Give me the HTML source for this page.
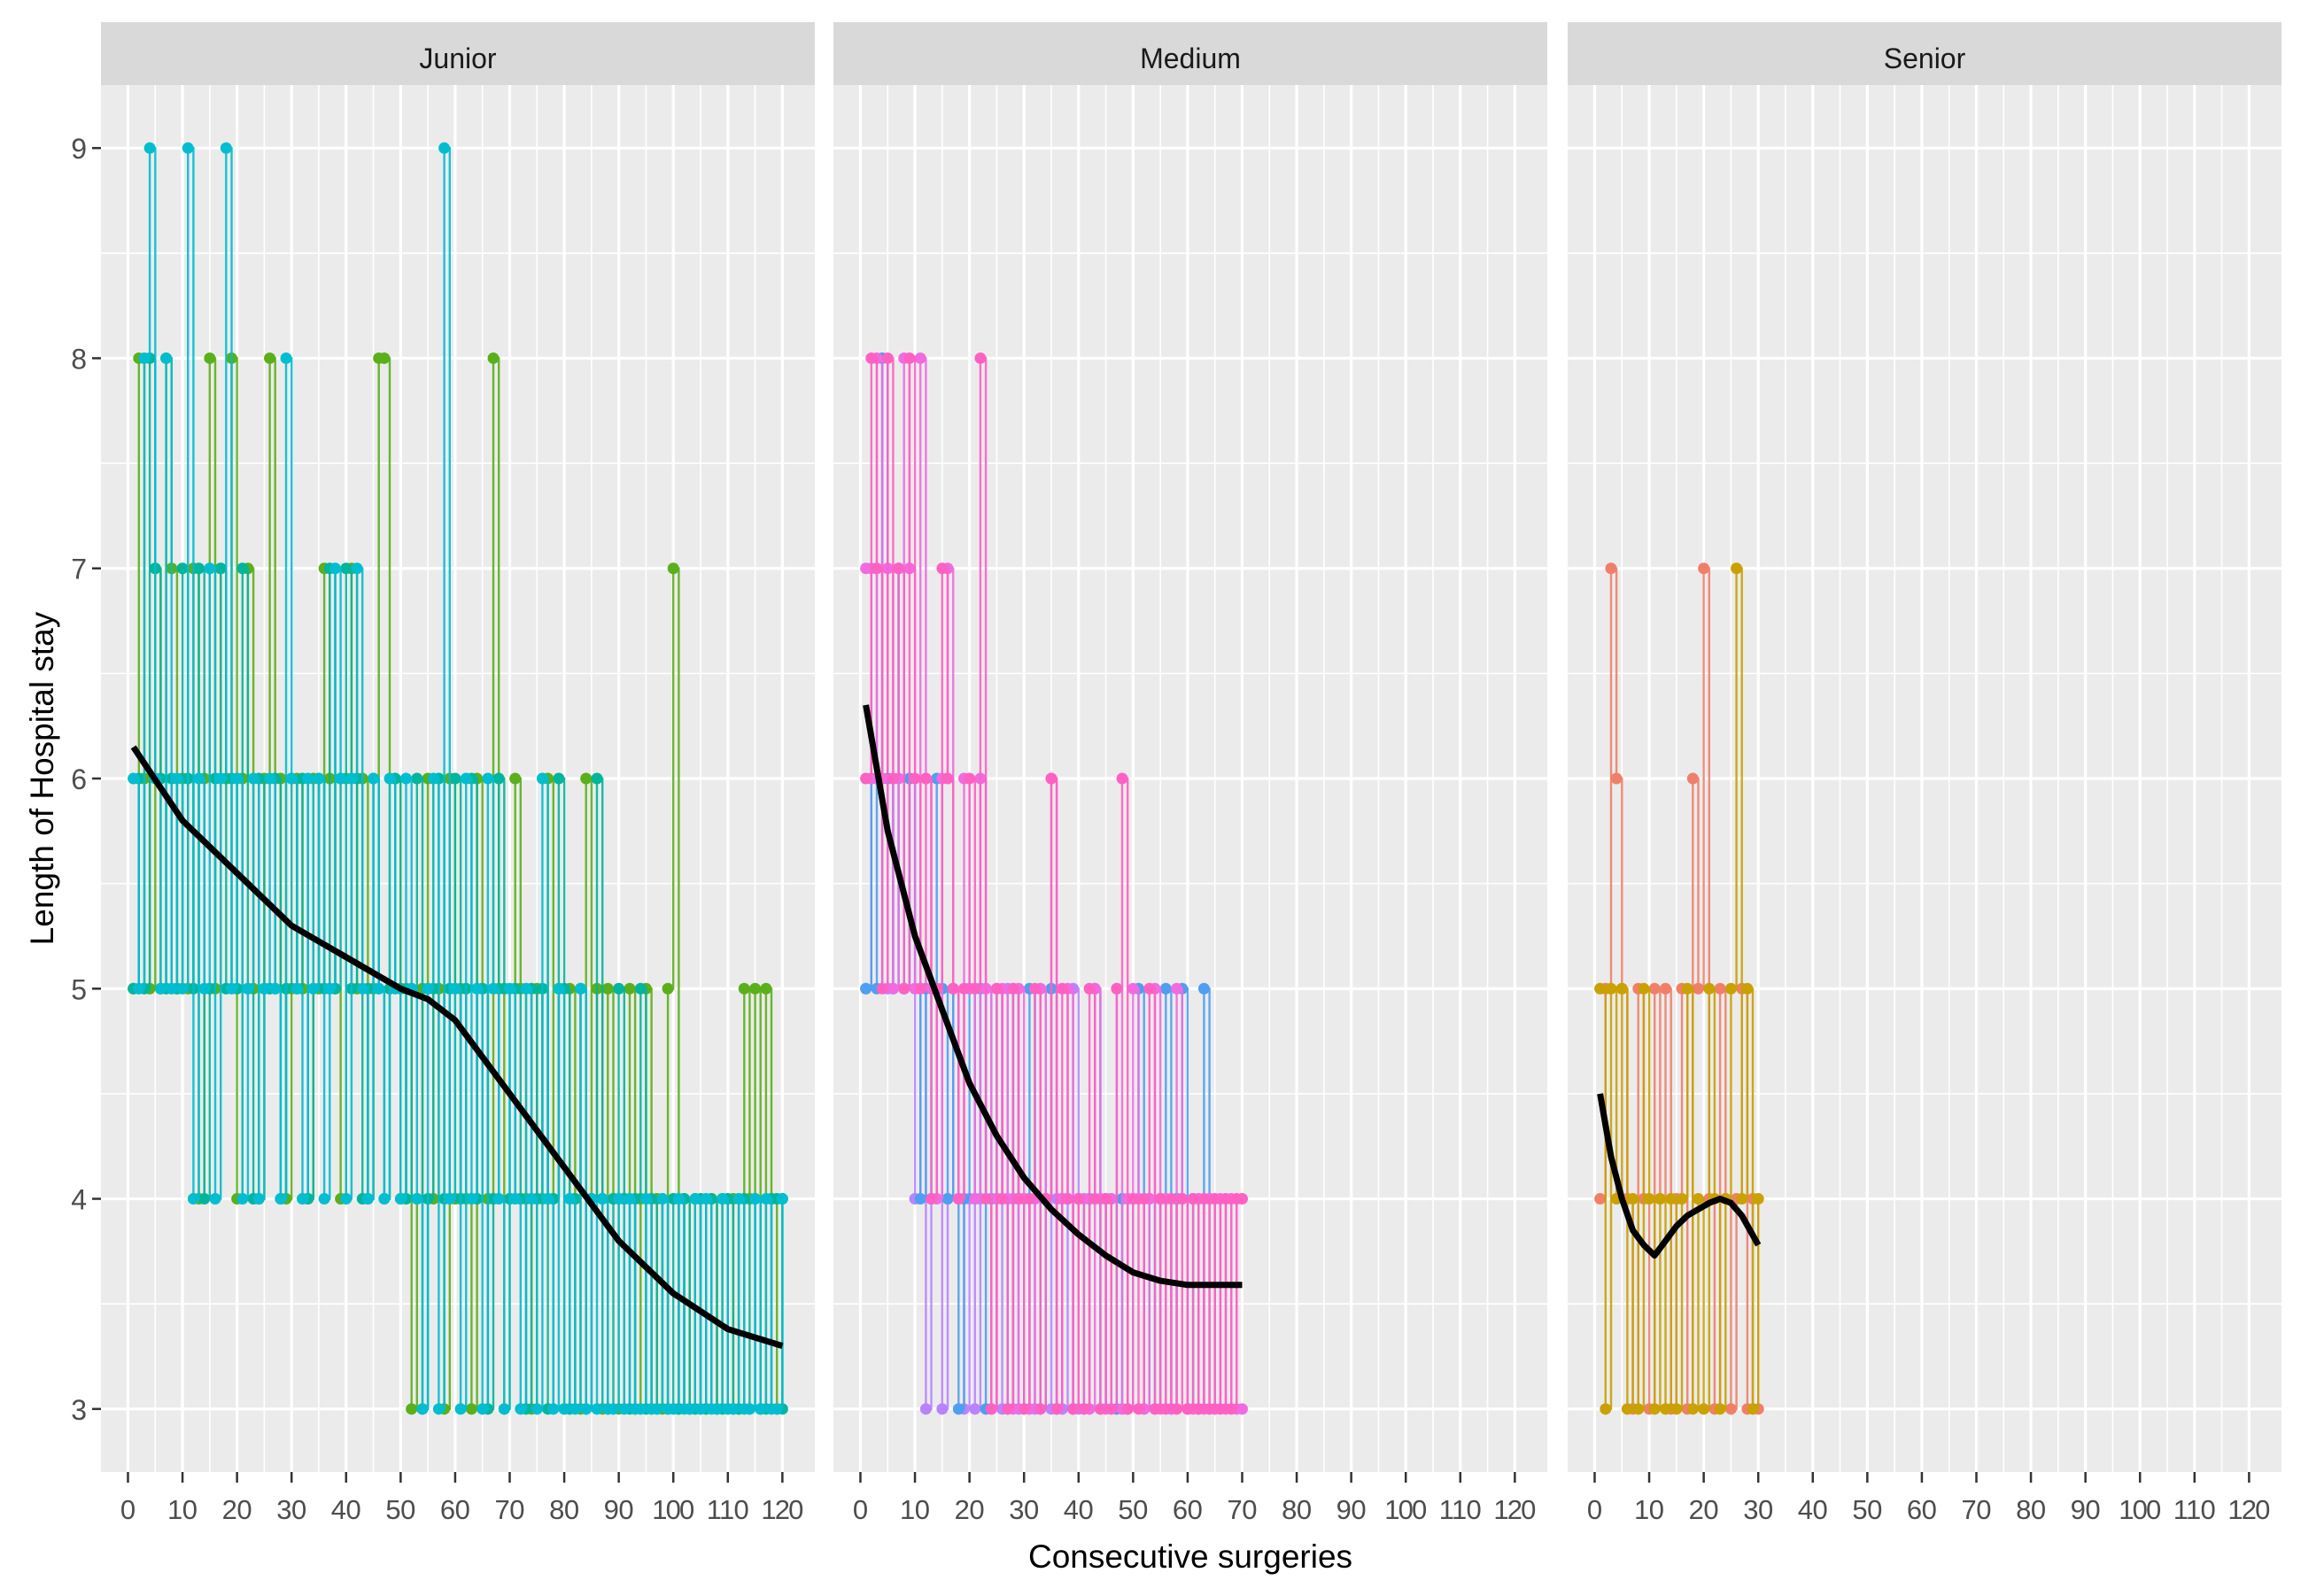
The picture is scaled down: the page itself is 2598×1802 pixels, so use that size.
<!DOCTYPE html>
<html><head><meta charset="utf-8"><style>
html,body{margin:0;padding:0;background:#fff}
svg{display:block}
text{font-family:"Liberation Sans",sans-serif}
</style></head><body>
<svg id="chart" width="2598" height="1802" viewBox="0 0 2598 1802" xmlns="http://www.w3.org/2000/svg">
<rect width="2598" height="1802" fill="#fff"/>
<g id="root"></g>
<text x="1344" y="1770" font-size="37" text-anchor="middle" fill="#000">Consecutive surgeries</text>
<text transform="translate(60,879) rotate(-90)" font-size="37" text-anchor="middle" fill="#000">Length of Hospital stay</text>
</svg>
<script>
const panelNames = ["Junior","Medium","Senior"];
const xTicks = [0,10,20,30,40,50,60,70,80,90,100,110,120];
const yTicks = [3,4,5,6,7,8,9];

const juniorCyan = [6,5,8,9,6,5,8,5,6,5, 9,4,6,5,7,4,6,9,5,6, 4,5,6,4,5,6,5,4,8,6, 5,4,6,5,6,4,5,7,6,4, 6,7,5,4,6,5,4,6,5,4, 6,5,4,3,5,6,3,9,4,5, 3,6,4,5,3,6,5,4,3,5, 4,3,5,4,3,6,4,3,5,3, 4,3,5,3,4,3,4,3,3,4, 3,4,3,3,4,3,3,4,3,3, 4,3,3,4,3,4,3,3,4,3, 3,4,3,3,4,3,4,3,3,4];
const juniorGreen = [5,8,6,5,7,5,8,7,5,6, 5,7,4,6,8,5,7,6,8,4, 6,7,5,4,6,8,5,6,4,5, 6,5,4,6,5,7,6,5,4,6, 7,5,6,4,5,8,8,5,6,4, 5,3,4,5,6,4,5,3,6,4, 5,4,3,6,5,4,8,5,3,4, 6,5,4,3,5,4,6,4,5,3, 5,4,3,6,4,5,3,5,4,3, 4,5,3,4,5,3,4,3,5,7, 3,4,3,4,3,3,4,3,4,3, 4,3,5,4,5,3,5,4,3,4];
const juniorTeal = [5,6,5,8,7,6,5,6,5,7, 6,5,7,4,5,6,7,5,6,5, 7,5,4,6,5,5,6,4,5,6, 5,6,4,5,6,5,7,5,6,7, 5,6,4,5,6,5,4,5,6,5, 4,5,6,3,4,5,6,4,5,6, 4,5,6,4,5,3,4,6,5,4, 5,4,3,5,4,5,3,4,6,5, 3,4,5,3,4,6,4,3,4,5, 4,3,4,5,3,4,3,4,3,4, 3,4,3,3,4,3,4,3,3,4, 3,3,4,3,4,3,3,4,4,3];
const mediumPink = [6,8,7,5,8,6,7,5,8,6, 5,6,4,5,7,6,5,4,5,6, 5,8,4,3,5,4,3,5,4,3, 4,5,3,4,6,3,5,4,3,4, 3,5,4,3,4,3,5,6,3,4, 3,4,5,3,4,3,4,3,4,3, 4,3,4,3,4,3,4,3,4,4];
const mediumMagenta = [7,6,8,6,7,5,6,8,7,5, 8,6,5,4,6,7,5,4,6,5, 4,6,5,3,4,5,4,3,5,4, 3,4,5,4,6,3,4,5,3,4, 4,3,5,4,3,4,5,3,4,5, 4,3,4,5,3,4,3,5,4,3, 3,4,3,4,3,4,3,4,3,3];
const mediumPurple = [5,7,6,8,5,6,7,5,6,4, 5,3,4,5,3,4,5,4,3,4, 3,4,5,3,4,3,5,4,3,4, 4,3,5,4,3,4,3,4,5,3];
const mediumBlue = [5,6,5,8,6,5,7,5,6,5, 4,5,4,6,5,4,5,3,4,5, 4,5,3,4,5,4,3,5,4,3, 5,4,3,4,5,3,4,4,3,4, 3,4,5,3,4,4,3,4,3,4, 5,3,4,3,4,5,3,4,5,3, 4,3,5,4,3];
const seniorSalmon = [4,5,7,6,5,4,3,5,4,3, 5,4,5,3,4,5,3,6,5,7, 4,3,5,4,3,4,5,3,4,3];
const seniorGold = [5,3,5,4,5,3,4,3,5,4, 3,4,3,4,3,4,5,3,4,3, 5,4,3,4,5,7,4,5,3,4];

const juniorSmoothX = [1,10,20,30,40,50,55,60,70,80,90,100,110,120];
const juniorSmoothY = [6.15,5.8,5.55,5.3,5.15,5.0,4.95,4.85,4.5,4.15,3.8,3.55,3.38,3.3];
const mediumSmoothX = [1,5,10,15,20,25,30,35,40,45,50,55,60,70];
const mediumSmoothY = [6.35,5.75,5.25,4.9,4.55,4.3,4.1,3.95,3.83,3.73,3.65,3.61,3.59,3.59];
const seniorSmoothX = [1,3,5,7,9,11,13,15,17,19,21,23,25,27,30];
const seniorSmoothY = [4.5,4.2,4.0,3.85,3.78,3.73,3.8,3.87,3.92,3.95,3.98,4.0,3.98,3.92,3.78];

const panels = [
 {series:[[juniorGreen,"#5BAF1A"],[juniorTeal,"#00B59C"],[juniorCyan,"#00BDD0"]], sx:juniorSmoothX, sy:juniorSmoothY},
 {series:[[mediumPurple,"#B983FF"],[mediumBlue,"#4F9EF0"],[mediumMagenta,"#F06BE0"],[mediumPink,"#FF61C3"]], sx:mediumSmoothX, sy:mediumSmoothY},
 {series:[[seniorSalmon,"#F07F6A"],[seniorGold,"#C9A100"]], sx:seniorSmoothX, sy:seniorSmoothY}
];

const NS="http://www.w3.org/2000/svg";
const root=document.getElementById('root');
const lefts=[114,941,1770], PW=806, PT=96, PH=1566;
const xMin=-4.95, xMax=125.95, yMin=2.7, yMax=9.3;
function mk(t,a,p){const e=document.createElementNS(NS,t);for(const k in a)e.setAttribute(k,a[k]);(p||root).appendChild(e);return e;}

panels.forEach((p,pi)=>{
  const L=lefts[pi];
  const X=v=>L+(v-xMin)/(xMax-xMin)*PW;
  const Y=v=>PT+PH-(v-yMin)/(yMax-yMin)*PH;
  const g=mk('g',{});
  
  
  const bg=mk('rect',{x:L,y:PT,width:PW,height:PH,fill:'#EBEBEB'},g);
  
  
  for(let i=0;i<xTicks.length-1;i++){const m=(xTicks[i]+xTicks[i+1])/2;mk('line',{x1:X(m),x2:X(m),y1:PT,y2:PT+PH,stroke:'#fff','stroke-width':1.6},g);}
  for(let i=0;i<yTicks.length-1;i++){const m=(yTicks[i]+yTicks[i+1])/2;mk('line',{x1:L,x2:L+PW,y1:Y(m),y2:Y(m),stroke:'#fff','stroke-width':1.6},g);}
  xTicks.forEach(t=>{mk('line',{x1:X(t),x2:X(t),y1:PT,y2:PT+PH,stroke:'#fff','stroke-width':3.2},g);});
  yTicks.forEach(t=>{mk('line',{x1:L,x2:L+PW,y1:Y(t),y2:Y(t),stroke:'#fff','stroke-width':3.2},g);});
  const st=mk('rect',{x:L,y:25,width:PW,height:71,fill:'#D9D9D9'},g);
  
  
  const stt=mk('text',{x:L+PW/2,y:77,'font-size':32,'text-anchor':'middle',fill:'#1A1A1A'},g);
  
  
  stt.textContent=panelNames[pi];
  xTicks.forEach(t=>{
    mk('line',{x1:X(t),x2:X(t),y1:PT+PH,y2:PT+PH+12,stroke:'#333','stroke-width':2.5},g);
    const tx=mk('text',{x:X(t),y:1715,'font-size':31,'text-anchor':'middle',fill:'#4D4D4D','textLength':(t>=100?48:(t>0?34:0)) || null},g);
    if(t===0) tx.removeAttribute('textLength');
    
    
    tx.textContent=t;
  });
  if(pi===0){yTicks.forEach(t=>{
    mk('line',{x1:L-10,x2:L,y1:Y(t),y2:Y(t),stroke:'#333','stroke-width':2.5},g);
    const ty=mk('text',{x:L-16,y:Y(t)+12,'font-size':32,'text-anchor':'end',fill:'#4D4D4D'},g);
    
    
    ty.textContent=t;
  });}
  p.series.forEach(([vals,col],si)=>{
    let d='';
    vals.forEach((v,i)=>{
      const x=X(i+1).toFixed(1), y=Y(v).toFixed(1);
      if(i===0) d+='M'+x+','+y;
      else d+='H'+x+'V'+y;
    });
    const pl=mk('path',{d:d,fill:'none',stroke:col,'stroke-width':2.4,'stroke-opacity':0.9},g);
    
    
    vals.forEach((v,i)=>{
      const c=mk('circle',{cx:X(i+1),cy:Y(v),r:6.5,fill:col},g);
      
      
    });
  });
  const sp=p.sx.map((x,i)=>X(x).toFixed(1)+','+Y(p.sy[i]).toFixed(1)).join(' ');
  const sl=mk('polyline',{points:sp,fill:'none',stroke:'#000','stroke-width':7,'stroke-linejoin':'round','stroke-linecap':'butt'},g);
  
  
});
</script>
</body></html>
